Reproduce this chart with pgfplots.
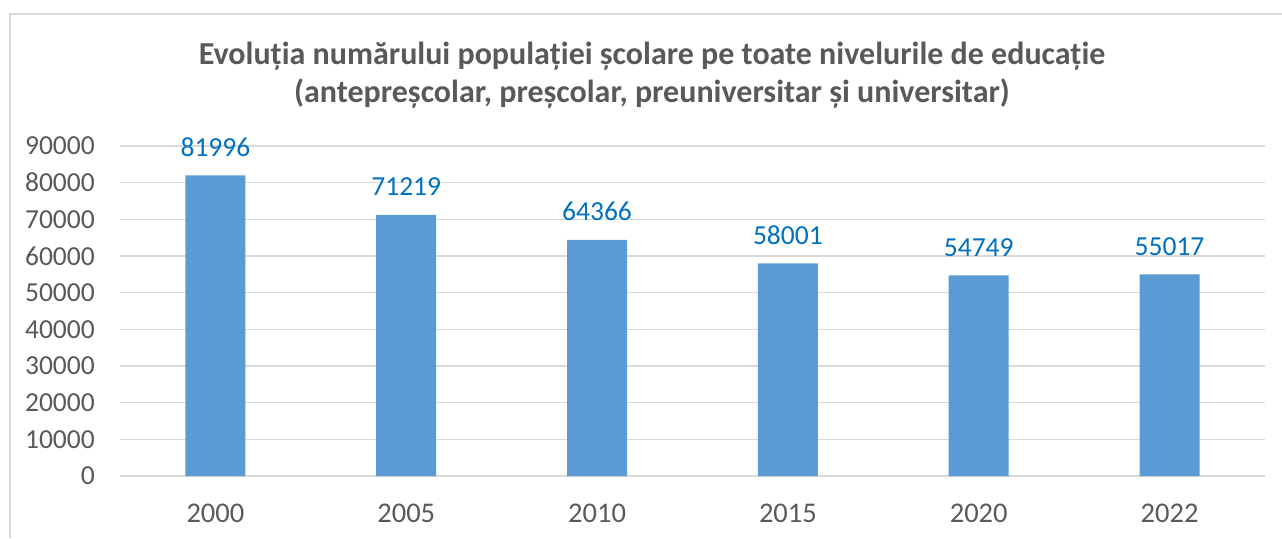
\documentclass[border=0pt]{standalone}
\usepackage{fontspec}
\setmainfont{Carlito}
\usepackage{pgfplots}
\pgfplotsset{compat=1.18}
\definecolor{barblue}{HTML}{5B9BD5}
\definecolor{lblblue}{HTML}{0070C0}
\definecolor{txtgray}{HTML}{595959}
\definecolor{gridgray}{HTML}{D9D9D9}
\begin{document}
\begin{tikzpicture}
\path[use as bounding box] (-120pt,-62pt) rectangle (1162pt,476pt);
\draw[gridgray, line width=1.5pt] (-110pt,-62pt) -- (-110pt,462pt) -- (1162pt,462pt);
\begin{axis}[
  at={(0,0)}, anchor=south west,
  scale only axis, width=1145pt, height=330pt,
  xmin=-0.5, xmax=5.5, ymin=0, ymax=90000,
  ytick distance=10000,
  xtick=data, xticklabels={2000,2005,2010,2015,2020,2022},
  axis line style={draw=none},
  major tick length=0pt,
  ymajorgrids, grid style={gridgray, line width=1.3pt},
  scaled y ticks=false,
  /pgf/number format/assume math mode=true,
  yticklabel={\pgfmathprintnumber[fixed,precision=0,set thousands separator={}]{\tick}},
  tick label style={text=txtgray},
  yticklabel style={font=\fontsize{27.5}{30}\selectfont, anchor=east, inner sep=0pt, xshift=-25pt},
  xticklabel style={font=\fontsize{28.5}{30}\selectfont, anchor=base, inner sep=0pt, yshift=-46pt},
  clip=false,
]
\draw[gridgray, line width=2pt] (axis cs:-0.5,0) -- (axis cs:5.5,0);
\addplot[ybar, bar width=60pt, fill=barblue, draw=none,
  nodes near coords,
  nodes near coords style={font=\fontsize{27.5}{30}\selectfont, text=lblblue, anchor=base, inner sep=0pt, yshift=19pt},
  point meta=explicit symbolic]
  coordinates {(0,81996)[81996] (1,71219)[71219] (2,64366)[64366] (3,58001)[58001] (4,54749)[54749] (5,55017)[55017]};
\end{axis}
\node[anchor=base, text=txtgray, font=\fontsize{32}{36}\selectfont\bfseries, inner sep=0pt] at (532pt,411pt) {Evoluția numărului populației școlare pe toate nivelurile de educație};
\node[anchor=base, text=txtgray, font=\fontsize{32}{36}\selectfont\bfseries, inner sep=0pt] at (532pt,373pt) {(antepreșcolar, preșcolar, preuniversitar și universitar)};
\end{tikzpicture}
\end{document}
